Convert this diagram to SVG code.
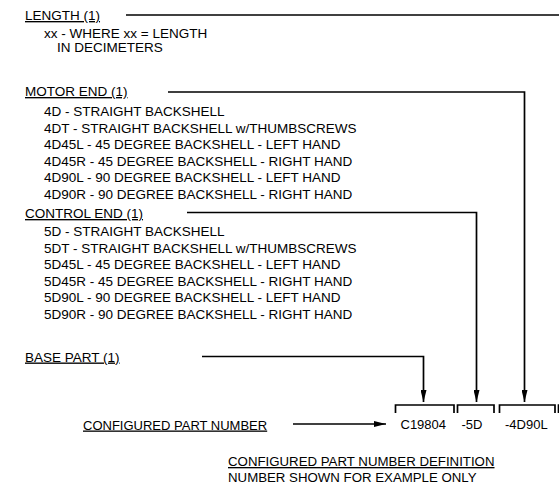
<svg xmlns="http://www.w3.org/2000/svg" width="559" height="487" viewBox="0 0 559 487">
<defs>
<style>
text{font-family:"Liberation Sans",Arial,sans-serif;font-size:13.5px;fill:#000}
.u{text-decoration:underline}
.s{font-size:13px}
.d{font-size:13.25px}
.ln{fill:none;stroke:#000;stroke-width:1.7}
</style>
<marker id="ah" viewBox="0 0 12 6" refX="12" refY="3" markerWidth="12" markerHeight="6" markerUnits="userSpaceOnUse" orient="auto">
<path d="M0,0 L12,3 L0,6 Z" fill="#000"/>
</marker>
</defs>
<rect width="559" height="487" fill="#fff"/>
<g id="length">
<text class="u" x="25" y="20">LENGTH (1)</text>
<text x="44" y="37.5">xx - WHERE xx = LENGTH</text>
<text x="57" y="51.5">IN DECIMETERS</text>
</g>
<g id="motor-end">
<text class="u" x="25" y="96">MOTOR END (1)</text>
<text x="44" y="116">4D - STRAIGHT BACKSHELL</text>
<text x="44" y="132.6">4DT - STRAIGHT BACKSHELL w/THUMBSCREWS</text>
<text x="44" y="149.2">4D45L - 45 DEGREE BACKSHELL - LEFT HAND</text>
<text x="44" y="165.8">4D45R - 45 DEGREE BACKSHELL - RIGHT HAND</text>
<text x="44" y="182.4">4D90L - 90 DEGREE BACKSHELL - LEFT HAND</text>
<text x="44" y="199">4D90R - 90 DEGREE BACKSHELL - RIGHT HAND</text>
</g>
<g id="control-end">
<text class="u" x="25" y="218">CONTROL END (1)</text>
<text x="44" y="236">5D - STRAIGHT BACKSHELL</text>
<text x="44" y="252.6">5DT - STRAIGHT BACKSHELL w/THUMBSCREWS</text>
<text x="44" y="269.2">5D45L - 45 DEGREE BACKSHELL - LEFT HAND</text>
<text x="44" y="285.8">5D45R - 45 DEGREE BACKSHELL - RIGHT HAND</text>
<text x="44" y="302.4">5D90L - 90 DEGREE BACKSHELL - LEFT HAND</text>
<text x="44" y="319">5D90R - 90 DEGREE BACKSHELL - RIGHT HAND</text>
</g>
<g id="base-part">
<text class="u" x="25" y="361.5">BASE PART (1)</text>
</g>
<g id="configured-part-number">
<text class="u s" x="83" y="429.5">CONFIGURED PART NUMBER</text>
</g>
<g id="part-number">
<path class="ln" d="M395.5,413 V405 H454 V413 M457.5,413 V405 H494 V413 M499.5,413 V405 H555 V413 M558.5,413 V405 H560"/>
<text class="s" x="400.5" y="429">C19804</text>
<text class="s" x="461.5" y="429">-5D</text>
<text class="s" x="505" y="429">-4D90L</text>
</g>
<g id="definition">
<text class="u d" x="228" y="466">CONFIGURED PART NUMBER DEFINITION</text>
<text class="d" x="228" y="482">NUMBER SHOWN FOR EXAMPLE ONLY</text>
</g>
<g id="connectors">
<path class="ln" d="M126,15 H560"/>
<path class="ln" d="M168,92 H524.5 V402" marker-end="url(#ah)"/>
<path class="ln" d="M187,212.5 H476.5 V402" marker-end="url(#ah)"/>
<path class="ln" d="M202,356.5 H423.5 V402" marker-end="url(#ah)"/>
<path class="ln" d="M293,424 H386" marker-end="url(#ah)"/>
</g>
</svg>
